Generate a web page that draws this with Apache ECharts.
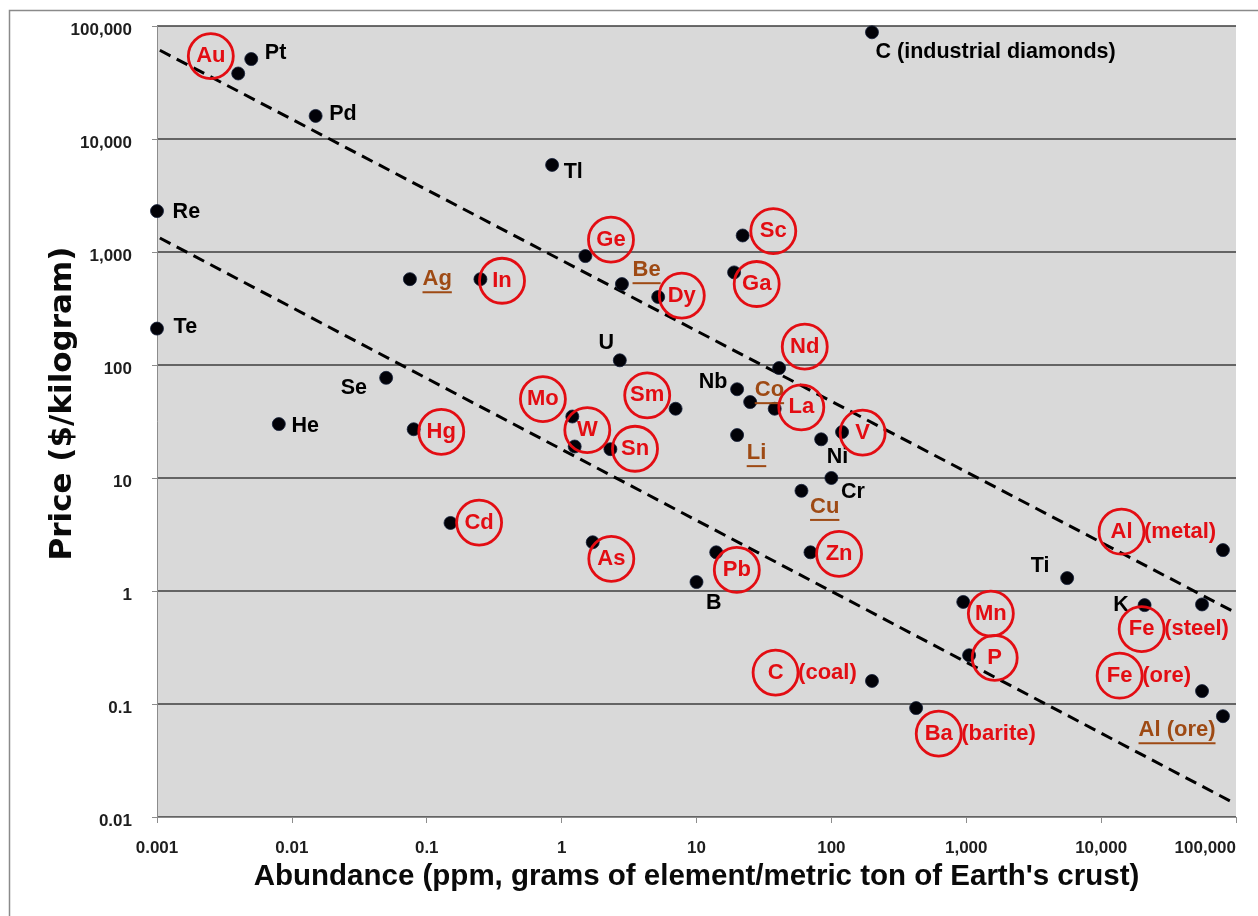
<!DOCTYPE html>
<html>
<head>
<meta charset="utf-8">
<title>Element price vs. crustal abundance</title>
<script src="https://cdn.jsdelivr.net/npm/echarts@6/dist/echarts.min.js"></script>
<style>
  html, body { margin: 0; padding: 0; background: #ffffff; }
  #chart { width: 1258px; height: 916px; }
</style>
</head>
<body>
<div id="chart"></div>
<script>
// ---- data -------------------------------------------------------------
// element symbols, optional qualifier, crustal abundance (ppm) and price ($/kg)
const symbols = ['Au','Pt','Pd','Re','Te','He','Se','Hg','Ag','In','Tl','Ge','Be','Dy','Sc','Ga','C','U','Nd','Nb','Co','La','Sm','Mo','W','Sn','Li','Ni','V','Cr','Cu','Cd','As','Pb','Zn','B','Ti','Al','K','Fe','Mn','P','C','Ba','Fe','Al'];
const qualifiers = ['','','','','','','','','','','','','','','','','(industrial diamonds)','','','','','','','','','','','','','','','','','','','','','(metal)','','(steel)','','','(coal)','(barite)','(ore)','(ore)'];
const abundance = [0.004,0.005,0.015,0.001,0.001,0.008,0.05,0.08,0.075,0.25,0.85,1.5,2.8,5.2,22,19,200,2.7,41,20,25,38,7.0,1.2,1.25,2.3,20,84,120,100,60,0.15,1.7,14,70,10,5600,80000,21000,56000,950,1050,200,425,56000,80000];
const price = [38000,51000,16000,2300,210,30,77,27,575,575,5900,920,520,400,1400,660,88000,110,94,61,47,41,41,35,19,18,24,22,25.5,10,7.7,4.0,2.7,2.2,2.2,1.2,1.3,2.3,0.75,0.76,0.80,0.27,0.16,0.092,0.13,0.078];
// how each element is marked: 'circle' (red ring), 'underline' (brown), 'plain' (black)
const marking = ['circle','plain','plain','plain','plain','plain','plain','circle','underline','circle','plain','circle','underline','circle','circle','circle','plain','plain','circle','plain','underline','circle','circle','circle','circle','circle','underline','plain','circle','plain','underline','circle','circle','circle','circle','plain','plain','circle','plain','circle','circle','circle','circle','circle','circle','underline'];

// two dashed guide lines (price falls with abundance)
const upperTrend = [[0.00105, 61000], [100000, 0.64]];
const lowerTrend = [[0.00105, 1330], [100000, 0.013]];

// tick labels, one per decade
const xTickLabels = ['0.001','0.01','0.1','1','10','100','1,000','10,000','100,000'];
const yTickLabels = ['0.01','0.1','1','10','100','1,000','10,000','100,000'];

// ---- label placement (pixel offset of label's left/middle from the dot) ----
const labelOffset = [
  [-49.5,-17],[14,-6],[14,-1],[16,1],[17,-1],[13,2],[-45,11],[5.5,3],[13,2],[-0.5,2],
  [12,8],[3.5,-16],[11,-12],[1.5,-1],[8.5,-4],[0.5,12],[4,20],[-21,-17],[3.5,-21],[-38,-7],
  [5,-10],[4.5,-1],[-50.5,-13],[-51.5,-17],[-9.5,-16],[2.5,0],[10,20],[6,18],[-1.5,1],[10,14],
  [9,18],[6.5,0],[-3.5,17],[-1.5,18],[6.5,2],[10,21],[-36,-12],[-123.5,-18],[-31,0],[-82.5,25],
  [5.5,12],[3.5,3],[-118.5,-8],[0.5,26],[-104.5,-15],[-84,16]
];

// ---- styling ----------------------------------------------------------
const FONT = '"Liberation Sans", Arial, Helvetica, sans-serif';
const WIDE_FONT = '"DejaVu Sans", "Liberation Sans", Arial, sans-serif';
const RED = '#e30d13';
const BROWN = '#9e4a14';
const INK = '#000000';
const DOT = 13;

function labelFor(i) {
  const sym = symbols[i];
  const qual = qualifiers[i];
  const off = labelOffset[i];
  const base = {
    show: true,
    // position is measured from the top-left of the dot's bounding box
    position: [off[0] + DOT / 2, off[1] + DOT / 2],
    align: 'left', verticalAlign: 'middle',
    textBorderWidth: 0, textShadowBlur: 0,
    fontFamily: FONT, fontWeight: 'bold', fontSize: 21.5
  };
  if (marking[i] === 'circle') {
    return Object.assign(base, {
      color: RED, fontSize: 22,
      formatter: qual ? '{c|' + sym + '}{q|' + qual + '}' : '{c|' + sym + '}',
      rich: {
        c: { width: 45, height: 45, lineHeight: 45, align: 'center', verticalAlign: 'middle',
             borderColor: RED, borderWidth: 2.8, borderRadius: 23,
             color: RED, fontFamily: FONT, fontWeight: 'bold', fontSize: 22 },
        q: { align: 'center', verticalAlign: 'middle', color: RED,
             fontFamily: FONT, fontWeight: 'bold', fontSize: 22 }
      }
    });
  }
  if (marking[i] === 'underline') {
    const text = qual ? sym + ' ' + qual : sym;
    return Object.assign(base, {
      color: BROWN, fontSize: 22,
      formatter: '{t|' + text + '}\n{u|}',
      rich: {
        t: { color: BROWN, fontFamily: FONT, fontWeight: 'bold', fontSize: 22, lineHeight: 23 },
        u: { width: '100%', height: 2, lineHeight: 3, backgroundColor: BROWN }
      }
    });
  }
  return Object.assign(base, {
    color: INK,
    formatter: qual ? sym + ' ' + qual : sym
  });
}

const points = symbols.map(function (s, i) {
  return { name: s, value: [abundance[i], price[i]], label: labelFor(i) };
});

const chart = echarts.init(document.getElementById('chart'), null, { renderer: 'canvas' });

const tickText = { fontFamily: FONT, fontWeight: 'bold', fontSize: 17, color: '#1e1e1e' };

chart.setOption({
  backgroundColor: '#ffffff',
  animation: false,
  graphic: [{
    type: 'rect', left: 7, top: 8, z: -10,
    shape: { width: 1400, height: 1000 },
    style: { fill: 'none', stroke: '#8a8a8a', lineWidth: 1.5 }
  }],
  grid: {
    left: 157, right: 22, top: 26, bottom: 99,
    show: true, backgroundColor: '#d9d9d9', borderWidth: 0
  },
  xAxis: {
    type: 'log', logBase: 10, min: 0.001, max: 100000, interval: 1,
    name: "Abundance (ppm, grams of element/metric ton of Earth's crust)",
    nameLocation: 'middle', nameGap: 45, nameMoveOverlap: false,
    nameTextStyle: { fontFamily: FONT, fontWeight: 'bold', fontSize: 29.5, color: '#0a0a0a' },
    axisLine: { show: true, lineStyle: { color: '#8c8c8c', width: 1 } },
    axisTick: { show: true, inside: false, length: 6, lineStyle: { color: '#8c8c8c', width: 1 } },
    splitLine: { show: false },
    minorTick: { show: false },
    axisLabel: Object.assign({
      margin: 23, alignMaxLabel: 'right',
      formatter: function (v) { return xTickLabels[Math.round(Math.log10(v)) + 3]; }
    }, tickText)
  },
  yAxis: {
    type: 'log', logBase: 10, min: 0.01, max: 100000, interval: 1,
    name: 'Price ($/kilogram)',
    nameLocation: 'middle', nameGap: 79, nameRotate: 90, nameMoveOverlap: false,
    nameTextStyle: { fontFamily: WIDE_FONT, fontWeight: 'bold', fontSize: 31, color: '#0a0a0a',
                     padding: [0, 0, 0, 36] },
    axisLine: { show: true, lineStyle: { color: '#8c8c8c', width: 1 } },
    axisTick: { show: true, inside: false, length: 5, lineStyle: { color: '#8c8c8c', width: 1 } },
    splitLine: { show: true, lineStyle: { color: '#3c3c3c', width: 1.5 } },
    minorTick: { show: false },
    axisLabel: Object.assign({
      margin: 25,
      // each decade label sits a little below its gridline
      formatter: function (v) { return '{v|' + yTickLabels[Math.round(Math.log10(v)) + 2] + '}'; },
      rich: { v: Object.assign({ padding: [9, 0, 0, 0], lineHeight: 17 }, tickText) }
    }, tickText)
  },
  series: [
    {
      type: 'line', data: upperTrend, symbol: 'none', z: 2, silent: true,
      lineStyle: { color: '#000000', width: 3, type: [12, 7] }
    },
    {
      type: 'line', data: lowerTrend, symbol: 'none', z: 2, silent: true,
      lineStyle: { color: '#000000', width: 3, type: [12, 7] }
    },
    {
      type: 'scatter', data: points, z: 3, clip: false,
      symbol: 'circle', symbolSize: DOT,
      itemStyle: { color: '#020208', borderColor: '#14203a', borderWidth: 0.8, opacity: 1 }
    }
  ]
});
</script>
</body>
</html>
